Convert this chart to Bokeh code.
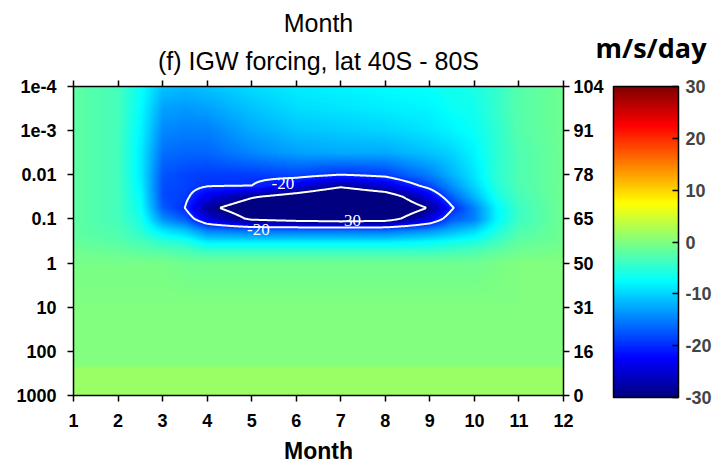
import math
import numpy as np
from bokeh.plotting import figure
from bokeh.models import (LinearColorMapper, ColorBar, FixedTicker, LinearAxis,
                          Range1d, LabelSet, ColumnDataSource, Title)
from bokeh.embed import file_html
from bokeh.resources import INLINE

# ---------------- data ----------------
months = [1, 2, 2.5, 3, 3.5, 4, 5, 6, 7, 8, 9, 9.5, 10, 10.5, 11, 12]
log10_pressure = [-4, -3.5, -3, -2.5, -2, -1.75, -1.5, -1.25, -1, -0.75, -0.5, -0.25, 0, 1, 2, 2.3, 2.4, 3]
# IGW forcing (m/s/day), one row per pressure level, one column per month
forcing = [
    [-2, -3.5, -7, -11, -11.5, -11, -9.5, -8.5, -8, -7.5, -7, -6.5, -6, -4.5, -2.5, -1],
    [-2, -3.5, -7.5, -13, -13.5, -13, -11, -9.5, -9, -8.5, -8, -7, -6.5, -4.5, -2.5, -1],
    [-2, -3.5, -8, -14.5, -15, -15, -12.5, -11, -10.5, -10, -9, -8, -7, -5, -2.5, -1],
    [-2, -3.5, -8.5, -16, -16.5, -16.5, -14.5, -13, -12.5, -12.5, -11, -10, -8, -5, -3, -1],
    [-2, -3.5, -8.5, -17.5, -18.5, -19, -19, -18.5, -20, -19, -15, -12, -9, -5, -3, -1],
    [-2, -3.5, -8, -18, -18.5, -19.8, -20, -24, -29, -25, -18.5, -14, -10, -5.5, -3, -1],
    [-2, -3.5, -7.5, -18, -19, -24, -29.5, -33, -37, -34, -24, -17, -12, -6.5, -3.5, -1],
    [-2, -3.5, -7, -17, -20, -28.5, -34, -38, -40, -37, -29.5, -20.5, -15, -8, -4, -1],
    [-2, -3.5, -6, -14, -17, -24, -31, -33, -34, -33, -24, -17, -15, -8, -4, -1],
    [-2, -3, -5, -9, -11, -15, -16, -16, -16, -16, -14, -12, -10, -6, -3, -1],
    [-1.5, -2.5, -3.5, -5, -6, -9, -9, -9, -9, -9, -8, -7, -6, -4, -2, -1],
    [-1, -1.5, -2, -2.5, -3, -4, -4, -4, -4, -4, -4, -3.5, -3, -2, -1, -0.5],
    [-0.5, -0.5, -0.5, -0.5, -1, -1, -1, -1, -1, -1, -1, -1, -1, -0.5, 0, 0],
    [0, 0, 0, 0, 0, 0, 0, 0, 0, 0, 0, 0, 0, 0, 0, 0],
    [0, 0, 0, 0, 0, 0, 0, 0, 0, 0, 0, 0, 0, 0, 0, 0],
    [0, 0, 0, 0, 0, 0, 0, 0, 0, 0, 0, 0, 0, 0, 0, 0],
    [1.5, 1.5, 1.5, 1.5, 1.5, 1.5, 1.5, 1.5, 1.5, 1.5, 1.5, 1.5, 1.5, 1.5, 1.5, 1.5],
    [1.5, 1.5, 1.5, 1.5, 1.5, 1.5, 1.5, 1.5, 1.5, 1.5, 1.5, 1.5, 1.5, 1.5, 1.5, 1.5],
]

month_ticks = [1, 2, 3, 4, 5, 6, 7, 8, 9, 10, 11, 12]
pressure_ticks = [1000, 100, 10, 1, 0.1, 0.01, 0.001, 0.0001]
pressure_tick_labels = ["1000", "100", "10", "1", "0.1", "0.01", "1e-3", "1e-4"]
altitude_tick_labels = ["0", "16", "31", "50", "65", "78", "91", "104"]
colorbar_ticks = [-30, -20, -10, 0, 10, 20, 30]
colorbar_tick_labels = ["-30", "-20", "-10", "0", "10", "20", "30"]
contour_levels = [-30, -20]
contour_label_month = [5.7, 5.15, 7.2]
contour_label_log10p = [-1.8, -0.76, -0.96]
contour_label_text = ["-20", "-20", "-30"]

FONT = "Liberation Sans"

# ---------------- jet colour map ----------------
def jet_hex(t):
    r = min(max(1.5 - abs(4 * t - 3), 0), 1)
    g = min(max(1.5 - abs(4 * t - 2), 0), 1)
    b = min(max(1.5 - abs(4 * t - 1), 0), 1)
    return "#%02x%02x%02x" % (int(round(r * 255)), int(round(g * 255)), int(round(b * 255)))

palette = [jet_hex(i / 255) for i in range(256)]
mapper = LinearColorMapper(palette=palette, low=-30, high=30,
                           low_color=palette[0], high_color=palette[-1])

# ---------------- smooth display grid (bilinear shading of the read values) ----------------
M = np.array(months, dtype=float)
L = np.array(log10_pressure, dtype=float)
Z = np.array(forcing, dtype=float)
nx, ny = 491, 310
xf = np.linspace(1, 12, nx)
hf = np.linspace(-3, 4, ny)          # height coordinate = -log10(p)
tmp = np.array([np.interp(xf, M, row) for row in Z])
img = np.array([np.interp(-hf, L, tmp[:, j]) for j in range(nx)]).T

# ---------------- figure ----------------
p = figure(width=714, height=467, x_range=Range1d(1, 12), y_range=Range1d(-3, 4),
           x_axis_location=None, y_axis_location=None,
           output_backend="svg", toolbar_location=None,
           min_border_left=73, min_border_right=151, min_border_top=86, min_border_bottom=72)
p.outline_line_color = None
p.grid.visible = False
p.background_fill_color = "white"

p.image(image=[img], x=1, y=-3, dw=11, dh=7, color_mapper=mapper)
p.contour(x=xf, y=hf, z=img, levels=contour_levels, line_color="white", line_width=2)

lab_src = ColumnDataSource(dict(x=contour_label_month,
                                y=[-v for v in contour_label_log10p],
                                text=contour_label_text))
p.add_layout(LabelSet(x="x", y="y", text="text", source=lab_src, text_color="white",
                      text_font=FONT, text_font_size="17px", text_align="center",
                      text_baseline="middle"))

h_ticks = [int(round(-math.log10(v))) for v in pressure_ticks]


def style_axis(ax):
    ax.axis_line_color = "black"
    ax.axis_line_width = 1.5
    ax.major_tick_line_color = "black"
    ax.major_tick_line_width = 1.5
    ax.major_tick_out = 6
    ax.major_tick_in = 0
    ax.minor_tick_line_color = None
    ax.major_label_text_font = FONT
    ax.major_label_text_font_size = "18px"
    ax.major_label_text_font_style = "bold"
    ax.major_label_text_color = "black"


bottom = LinearAxis(ticker=FixedTicker(ticks=month_ticks), axis_label="Month")
style_axis(bottom)
bottom.major_label_standoff = 12
bottom.axis_label_text_font = FONT
bottom.axis_label_text_font_size = "23px"
bottom.axis_label_text_font_style = "bold"
bottom.axis_label_text_color = "black"
bottom.axis_label_standoff = 8
p.add_layout(bottom, "below")

top = LinearAxis(ticker=FixedTicker(ticks=month_ticks))
style_axis(top)
top.major_label_text_color = None
top.major_label_text_font_size = "0px"
top.major_label_standoff = 0
p.add_layout(top, "above")

left = LinearAxis(ticker=FixedTicker(ticks=h_ticks),
                  major_label_overrides={h: s for h, s in zip(h_ticks, pressure_tick_labels)})
style_axis(left)
left.major_label_standoff = 11
p.add_layout(left, "left")

right = LinearAxis(ticker=FixedTicker(ticks=h_ticks),
                   major_label_overrides={h: s for h, s in zip(h_ticks, altitude_tick_labels)})
style_axis(right)
right.major_tick_out = 6
right.major_label_standoff = 4
p.add_layout(right, "right")

cb = ColorBar(color_mapper=mapper, ticker=FixedTicker(ticks=colorbar_ticks),
              major_label_overrides={v: s for v, s in zip(colorbar_ticks, colorbar_tick_labels)},
              width=65, height=311, padding=0, margin=0, location=(7, -2),
              bar_line_color="black", bar_line_width=1.5,
              major_tick_in=6, major_tick_out=0, major_tick_line_color="black",
              major_tick_line_width=1.5, minor_tick_line_color=None,
              label_standoff=7, major_label_text_font=FONT,
              major_label_text_font_size="18px", major_label_text_font_style="bold",
              background_fill_color=None, border_line_color=None)
p.add_layout(cb, "right")

# titles (stacked outward from the frame)
p.add_layout(Title(text="(f) IGW forcing, lat 40S - 80S", align="center", text_font=FONT,
                   text_font_size="25px", text_font_style="normal", text_color="black",
                   vertical_align="top", standoff=8), "above")
p.add_layout(Title(text="m/s/day", align="left", offset=522, text_font="Open Sans",
                   text_font_size="27px", text_font_style="bold", text_color="black",
                   vertical_align="bottom", standoff=-46), "above")
p.add_layout(Title(text="Month", align="center", text_font=FONT,
                   text_font_size="25px", text_font_style="normal", text_color="black",
                   vertical_align="top", standoff=8), "above")

open("out.html", "w").write(file_html(p, INLINE))
